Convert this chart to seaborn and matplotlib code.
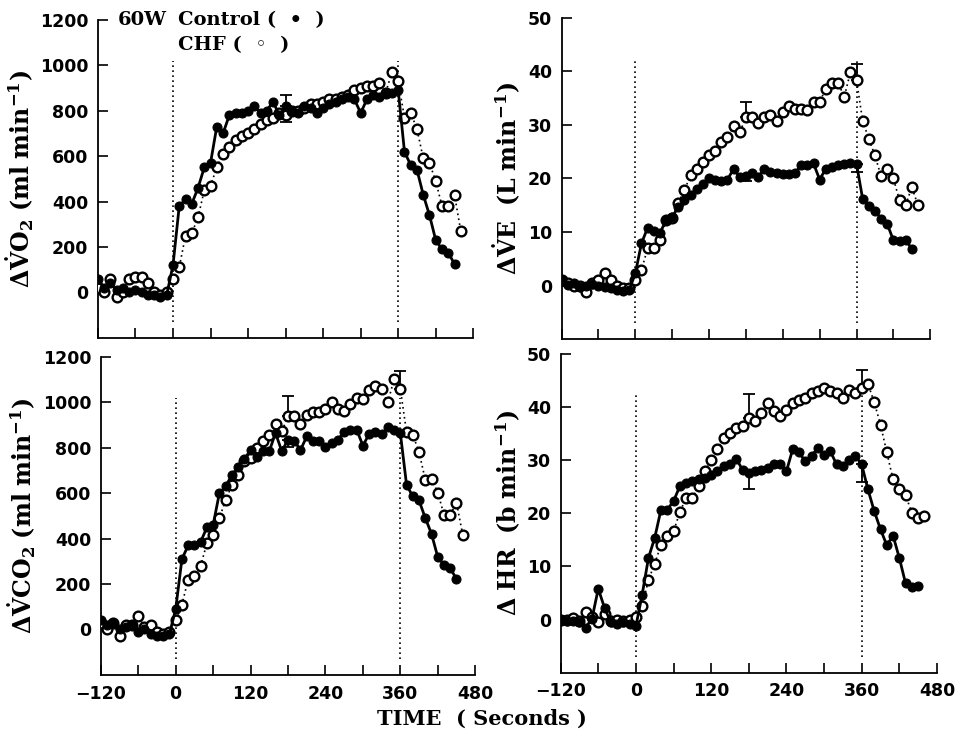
import numpy as np
import pandas as pd
import matplotlib
matplotlib.use("Agg")
import matplotlib.pyplot as plt
import seaborn as sns

# time grids (seconds)
t_ctl = [-120, -110, -100, -90, -80, -70, -60, -50, -40, -30, -20, -10,
         0, 10, 20, 30, 40, 50, 60, 70, 80, 90, 100, 110, 120, 130, 140, 150,
         160, 170, 180, 190, 200, 210, 220, 230, 240, 250, 260, 270, 280, 290,
         300, 310, 320, 330, 340, 350, 360, 370, 380, 390, 400, 410, 420, 430,
         440, 450]
t_chf = t_ctl + [460]

vo2_ctl = [60, 20, 40, 10, 20, 0, 10, 0, -10, -10, -20, -10,
           120, 380, 410, 390, 460, 550, 570, 730, 700, 780, 790, 790, 800,
           820, 790, 800, 840, 780, 820, 800, 790, 820, 810, 790, 810, 830,
           840, 850, 860, 850, 790, 850, 870, 860, 880, 880, 890,
           620, 560, 540, 430, 340, 230, 190, 175, 125]
vo2_chf = [20, 0, 60, -20, 0, 60, 70, 70, 40, 0, -10, 0,
           60, 110, 250, 260, 330, 450, 470, 550, 610, 640, 670, 690, 700,
           720, 740, 760, 770, 790, 780, 800, 800, 810, 830, 830, 840, 850,
           850, 860, 870, 890, 900, 910, 910, 920, 880, 970, 930,
           770, 790, 720, 590, 570, 490, 380, 380, 430, 270]

ve_ctl = [1, 0.2, 0.5, -0.3, 0, 0.3, 0, -0.3, -0.5, -0.8, -1, -0.8,
          2.3, 7.9, 10.8, 10.2, 9.8, 12.2, 12.8, 14.7, 15.9, 17, 18.1, 19, 20,
          19.7, 19.6, 19.8, 21.8, 20.2, 20.5, 21, 20.3, 21.8, 21.2, 21, 20.8,
          20.9, 21, 22.5, 22.6, 22.8, 19.8, 21.8, 22.1, 22.5, 22.7, 22.8, 22.7,
          16.2, 14.8, 14, 12.5, 11.5, 8.5, 8.4, 8.5, 6.9]
ve_chf = [1, 0.5, 0, 0, -1.1, 0.5, 1, 2.3, 1, 0, -0.5, -0.5,
          1.0, 2.9, 7.0, 7.0, 8.5, 12.2, 12.6, 15.5, 17.8, 20.7, 21.8, 23,
          24.3, 25.2, 26.8, 27.7, 29.7, 28.6, 31.4, 31.4, 30.3, 31.4, 31.9,
          30.8, 32.4, 33.6, 33, 33, 32.7, 34.2, 34.3, 36.7, 37.8, 37.9, 35.2,
          39.8, 38.4,
          30.7, 27.4, 24.3, 20.4, 21.7, 20, 15.9, 15, 18.4, 15]

vco2_ctl = [40, 20, 30, 0, 10, 20, -10, 0, -20, -30, -30, -20,
            90, 310, 370, 370, 385, 450, 460, 600, 630, 680, 715, 750, 790,
            760, 785, 785, 865, 785, 835, 830, 790, 850, 830, 830, 805, 820,
            835, 870, 880, 880, 810, 860, 870, 860, 890, 880, 865,
            637, 586, 568, 491, 421, 319, 285, 270, 222]
vco2_chf = [30, 0, 30, -30, 20, 20, 60, 10, 20, -10, -20, -10,
            40, 110, 220, 235, 280, 380, 415, 490, 570, 635, 680, 740, 755,
            800, 832, 858, 906, 872, 938, 938, 906, 946, 956, 956, 971, 1000,
            971, 963, 993, 1019, 1015, 1053, 1070, 1059, 1000, 1103, 1060,
            868, 858, 781, 660, 664, 603, 505, 505, 559, 417]

hr_ctl = [0, -0.2, -0.3, -0.5, -1.5, 0.2, 5.8, 2.2, -0.5, -0.8, -0.5, -0.8,
          -1.2, 4.7, 11.6, 15.4, 20.7, 20.7, 22.3, 25.1, 25.7, 26, 26.5, 26.7,
          27.3, 27.9, 28.9, 29.2, 30.3, 28.2, 27.6, 27.9, 28.2, 28.5, 29.2,
          29.2, 27.9, 32.1, 31.5, 29.8, 30.8, 32.3, 30.9, 31.7, 29.2, 28.9,
          30.1, 30.8, 29.2,
          24.5, 20.4, 17, 14, 15.8, 11.6, 6.8, 6.2, 6.3]
hr_chf = [0, 0, 0.3, -0.3, 1.5, 0.5, -0.5, 1.0, -0.3, 0, -0.3, 0,
          0.5, 2.5, 7.5, 10.5, 14.1, 15.7, 16.6, 20.2, 22.9, 22.9, 25.1, 27.9,
          30.1, 32.1, 34.2, 35.2, 36.1, 36.5, 38, 37.3, 38.9, 40.8, 39.2, 38.3,
          39.5, 40.8, 41.4, 41.7, 42.7, 43, 43.6, 43, 42.7, 41.7, 43.3, 42.7,
          43.6,
          44.4, 40.9, 36.7, 31.5, 26.4, 24.6, 23.4, 20.1, 19.2, 19.5]

# SE bars (one-sided) at these times
err_t = [180, 360]
vo2_err_ctl, vo2_err_chf = [70, 0], [90, 0]
ve_err_ctl, ve_err_chf = [1.0, 1.5], [2.8, 3.0]
vco2_err_ctl, vco2_err_chf = [30, 0], [88, 80]
hr_err_ctl, hr_err_chf = [3.0, 3.3], [4.4, 3.4]

ylabels = [r'$\mathbf{\Delta\dot{V}O_2\ (ml\ min^{-1})}$',
           r'$\mathbf{\Delta\dot{V}E\ \ (L\ min^{-1})}$',
           r'$\mathbf{\Delta\dot{V}CO_2\ (ml\ min^{-1})}$',
           r'$\mathbf{\Delta\ HR\ \ (b\ min^{-1})}$']

sns.set_style("ticks")
plt.rcParams['font.family'] = ['DejaVu Sans']
plt.rcParams['mathtext.fontset'] = 'dejavuserif'
for k in ['text.color', 'axes.labelcolor', 'xtick.color', 'ytick.color', 'axes.edgecolor']:
    plt.rcParams[k] = 'black'

fig = plt.figure(figsize=(9.6, 7.36), dpi=100)

# [left, bottom, width, height] in figure fractions
boxes = [[0.102, 0.541, 0.391, 0.432],
         [0.585, 0.539, 0.384, 0.437],
         [0.105, 0.083, 0.390, 0.432],
         [0.584, 0.086, 0.392, 0.433]]

panels = [
    (vo2_ctl, vo2_chf, vo2_err_ctl, vo2_err_chf, (-200, 1200), [0, 200, 400, 600, 800, 1000, 1200]),
    (ve_ctl, ve_chf, ve_err_ctl, ve_err_chf, (-10, 50), [0, 10, 20, 30, 40, 50]),
    (vco2_ctl, vco2_chf, vco2_err_ctl, vco2_err_chf, (-200, 1200), [0, 200, 400, 600, 800, 1000, 1200]),
    (hr_ctl, hr_chf, hr_err_ctl, hr_err_chf, (-10, 50), [0, 10, 20, 30, 40, 50]),
]

txt_font = 'DejaVu Serif'

for i, (ctl, chf, ectl, echf, ylim, yt) in enumerate(panels):
    ax = fig.add_axes(boxes[i])
    df_c = pd.DataFrame({'t': t_ctl, 'v': ctl})
    df_h = pd.DataFrame({'t': t_chf, 'v': chf})

    # dotted exercise on/off markers
    lo, hi = ylim
    span = hi - lo
    ax.vlines([0, 360], lo + 0.05 * span, hi - 0.13 * span, colors='k',
              linestyles=(0, (1, 2)), linewidth=1.2, zorder=1)

    sns.lineplot(data=df_h, x='t', y='v', ax=ax, color='k', linewidth=1.2,
                 linestyle=(0, (1, 2)), marker='o', markersize=7,
                 markerfacecolor='white', markeredgecolor='k',
                 markeredgewidth=1.7, zorder=3)
    sns.lineplot(data=df_c, x='t', y='v', ax=ax, color='k', linewidth=2.0,
                 marker='o', markersize=6.5, markerfacecolor='k',
                 markeredgecolor='k', zorder=4)

    for tt, e, v in zip(err_t, echf, [chf[t_chf.index(x)] for x in err_t]):
        if e > 0:
            ax.errorbar([tt], [v], yerr=[[0], [e]], fmt='none', ecolor='k',
                        elinewidth=1.3, capsize=4, capthick=1.3, zorder=2)
    for tt, e, v in zip(err_t, ectl, [ctl[t_ctl.index(x)] for x in err_t]):
        if e > 0:
            ax.errorbar([tt], [v], yerr=[[e], [0]], fmt='none', ecolor='k',
                        elinewidth=1.3, capsize=4, capthick=1.3, zorder=2)

    ax.set_xlim(-120, 480)
    ax.set_ylim(ylim)
    ax.set_xticks([-120, -60, 0, 60, 120, 180, 240, 300, 360, 420, 480])
    if i >= 2:
        ax.set_xticklabels(['\u2212120', '', '0', '', '120', '', '240', '', '360', '', '480'])
    else:
        ax.set_xticklabels([''] * 11)
    ax.set_yticks(yt)
    ax.set_yticklabels([str(v) for v in yt])
    ax.tick_params(direction='in', length=7, width=1.2, labelsize=12.5, pad=7)
    for lab in ax.get_xticklabels() + ax.get_yticklabels():
        lab.set_fontweight('bold')
    sns.despine(ax=ax)
    for s in ['left', 'bottom']:
        ax.spines[s].set_linewidth(1.3)
    ax.set_xlabel('')
    ax.set_ylabel(ylabels[i], fontsize=17, labelpad=3)

    if i == 0:
        ax.text(-88, 1200, '60W', fontsize=14, fontweight='bold',
                family=txt_font, va='center')
        ax.text(8, 1200, 'Control (  \u2022  )', fontsize=14, fontweight='bold',
                family=txt_font, va='center')
        ax.text(8, 1090, 'CHF (  \u25e6  )', fontsize=14, fontweight='bold',
                family=txt_font, va='center')

fig.text(0.502, 0.024, 'TIME  ( Seconds )', ha='center', va='center',
         fontsize=15, fontweight='bold', family=txt_font)

fig.savefig('out.png', dpi=100)
